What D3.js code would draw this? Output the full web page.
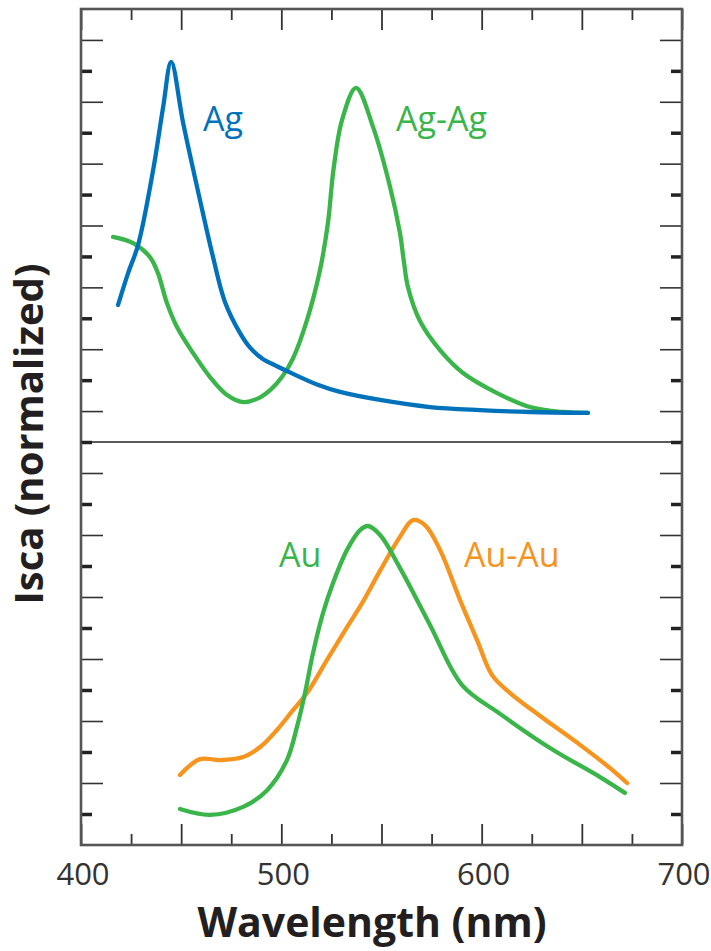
<!DOCTYPE html>
<html>
<head>
<meta charset="utf-8">
<script src="https://cdn.jsdelivr.net/npm/d3@7"></script>
<style>
  html, body { margin: 0; padding: 0; background: #fff; }
  svg { display: block; }
  text { font-family: "Open Sans", "Noto Sans", sans-serif; }
</style>
</head>
<body>
<svg id="chart" width="711" height="951"></svg>
<script>
// Scattering spectra: single particles vs. dimers (wavelength in nm, intensity in tick units)
const agWl  = [418.5, 423.5, 428.5, 436, 441, 445, 451, 459.4, 465.9, 471.9, 479.4, 484.4, 490.4, 497.8, 504.3, 517.8, 529.3, 549.3, 574.2, 599.2, 624.1, 653];
const agVal = [4.43, 5.46, 6.37, 8.79, 10.83, 12.29, 10.31, 7.82, 5.98, 4.52, 3.52, 3.05, 2.70, 2.45, 2.25, 1.86, 1.62, 1.36, 1.13, 1.03, 0.97, 0.94];

const agagWl  = [416, 426, 434.4, 438.4, 442.9, 447.9, 455.9, 464.4, 472.9, 480.9, 488.4, 494.8, 500.3, 505.8, 512.8, 519.3, 523.3, 526, 530.3, 537.3, 545.8, 554.3, 559.2, 561.2, 563.2, 569.2, 579.2, 590.7, 607.7, 624.1, 640.6, 653.1];
const agagVal = [6.63, 6.43, 5.98, 5.46, 4.49, 3.72, 2.88, 2.10, 1.52, 1.29, 1.41, 1.70, 2.10, 2.70, 3.94, 5.56, 7.10, 8.79, 10.41, 11.45, 10.18, 8.24, 6.76, 5.82, 5.01, 3.91, 2.97, 2.23, 1.58, 1.13, 0.97, 0.94];

const auWl  = [449.4, 464.4, 480.9, 492.9, 502.8, 507.8, 511.8, 515.8, 520.8, 525.8, 532.8, 539.3, 543.3, 549.3, 559.2, 574.2, 590.2, 609.2, 634.1, 659.1, 671.5];
const auVal = [1.16, 0.97, 1.23, 1.77, 2.74, 3.81, 4.90, 6.19, 7.48, 8.45, 9.52, 10.16, 10.29, 10.0, 8.94, 7.10, 5.16, 4.23, 3.13, 2.19, 1.68];

const auauWl  = [449.4, 459.4, 469.4, 480.9, 489.4, 497.8, 505.8, 512.8, 522.8, 532.8, 540.3, 549.3, 559.2, 565.7, 571.7, 579.2, 589.2, 597.7, 605.2, 614.2, 629.2, 649.1, 664.1, 672.6];
const auauVal = [2.26, 2.77, 2.74, 2.84, 3.16, 3.71, 4.35, 4.90, 5.97, 7.03, 7.80, 8.85, 9.94, 10.48, 10.32, 9.52, 7.90, 6.61, 5.48, 4.90, 4.16, 3.23, 2.48, 2.00];

const xTickLabels = [400, 500, 600, 700];
const seriesNames = ["Ag", "Ag-Ag", "Au", "Au-Au"];

const BLUE = "#0072bc", GREEN = "#39b54a", ORANGE = "#f7941d";

const svg = d3.select("#chart");
const plotLeft = 81, plotRight = 682, plotTop = 9, plotBottom = 845, plotMid = 442;

const x = d3.scaleLinear().domain([400, 700]).range([plotLeft, plotRight]);
const yTop = d3.scaleLinear().domain([0, 14]).range([plotMid, plotTop]);
const yBot = d3.scaleLinear().domain([0, 13]).range([plotBottom, plotMid]);

// Left and right tick marks, alternating long / short
function yTicks(scale, values, longTest) {
  const longVals = values.filter(longTest);
  const shortVals = values.filter(v => !longTest(v));
  [[plotLeft, d3.axisRight], [plotRight, d3.axisLeft]].forEach(([xPos, axisFn]) => {
    const gl = svg.append("g").attr("transform", `translate(${xPos},0)`)
      .call(axisFn(scale).tickValues(longVals).tickSize(22).tickFormat(""));
    gl.select(".domain").remove();
    gl.selectAll(".tick line").attr("stroke", "#333").attr("stroke-width", 1.6);
    const gs = svg.append("g").attr("transform", `translate(${xPos},0)`)
      .call(axisFn(scale).tickValues(shortVals).tickSize(11).tickFormat(""));
    gs.select(".domain").remove();
    gs.selectAll(".tick line").attr("stroke", "#222").attr("stroke-width", 3.5);
  });
}
yTicks(yTop, d3.range(0, 14), v => v % 2 === 1);
yTicks(yBot, d3.range(1, 13), v => v % 2 === 0);

// Top and bottom wavelength ticks
[[plotBottom, d3.axisTop], [plotTop, d3.axisBottom]].forEach(([yPos, axisFn]) => {
  const gl = svg.append("g").attr("transform", `translate(0,${yPos})`)
    .call(axisFn(x).tickValues(d3.range(400, 701, 50)).tickSize(21).tickFormat(""));
  gl.select(".domain").remove();
  gl.selectAll(".tick line").attr("stroke", "#333").attr("stroke-width", 1.8);
  const gs = svg.append("g").attr("transform", `translate(0,${yPos})`)
    .call(axisFn(x).tickValues(d3.range(425, 700, 50)).tickSize(11).tickFormat(""));
  gs.select(".domain").remove();
  gs.selectAll(".tick line").attr("stroke", "#333").attr("stroke-width", 1.8);
});

// Wavelength labels
svg.append("g").selectAll("text").data(xTickLabels).join("text")
  .attr("x", d => x(d) + 2).attr("y", 885)
  .attr("text-anchor", "middle")
  .attr("font-size", 31).attr("fill", "#333")
  .text(d => d);

// Frame and panel divider
svg.append("rect")
  .attr("x", plotLeft).attr("y", plotTop)
  .attr("width", plotRight - plotLeft).attr("height", plotBottom - plotTop)
  .attr("fill", "none").attr("stroke", "#555").attr("stroke-width", 2.6);
svg.append("line")
  .attr("x1", plotLeft).attr("x2", plotRight).attr("y1", plotMid).attr("y2", plotMid)
  .attr("stroke", "#222").attr("stroke-width", 1.6);

// Spectra
function drawCurve(wl, vals, yScale, color) {
  const pts = wl.map((w, i) => [w, vals[i]]);
  svg.append("path")
    .datum(pts)
    .attr("fill", "none")
    .attr("stroke", color)
    .attr("stroke-width", 4.3)
    .attr("stroke-linecap", "round")
    .attr("stroke-linejoin", "round")
    .attr("d", d3.line().x(d => x(d[0])).y(d => yScale(d[1])).curve(d3.curveCatmullRom.alpha(0.5)));
}
drawCurve(agagWl, agagVal, yTop, GREEN);
drawCurve(agWl, agVal, yTop, BLUE);
drawCurve(auauWl, auauVal, yBot, ORANGE);
drawCurve(auWl, auVal, yBot, GREEN);

// Series labels
const labels = [
  { t: seriesNames[0], x: 203, y: 131, c: BLUE },
  { t: seriesNames[1], x: 396, y: 131, c: GREEN },
  { t: seriesNames[2], x: 279, y: 567, c: GREEN },
  { t: seriesNames[3], x: 464, y: 567, c: ORANGE }
];
svg.append("g").selectAll("text").data(labels).join("text")
  .attr("x", d => d.x).attr("y", d => d.y)
  .attr("font-size", 34).attr("fill", d => d.c)
  .text(d => d.t);

// Axis titles
svg.append("text")
  .attr("x", 372).attr("y", 937)
  .attr("text-anchor", "middle")
  .attr("font-size", 41).attr("font-weight", 700).attr("fill", "#231f20")
  .text("Wavelength (nm)");
svg.append("text")
  .attr("transform", "translate(43,434) rotate(-90)")
  .attr("text-anchor", "middle")
  .attr("font-size", 40).attr("font-weight", 700).attr("fill", "#231f20")
  .text("Isca (normalized)");
</script>
</body>
</html>
